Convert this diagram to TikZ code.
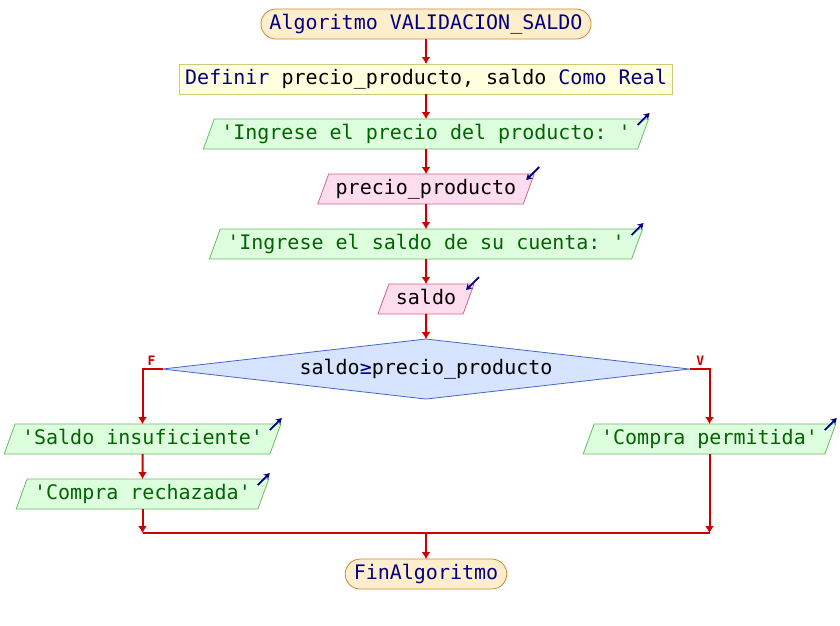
\documentclass[tikz,border=0pt]{standalone}
\usepackage{fontspec}
\setmonofont{DejaVu Sans Mono}
\usepackage{tikz}
\usetikzlibrary{positioning,shapes.geometric,calc,arrows.meta}
\definecolor{kw}{HTML}{000080}
\definecolor{strg}{HTML}{006400}
\definecolor{termfill}{HTML}{FFEECC}
\definecolor{termline}{HTML}{CC8833}
\definecolor{deffill}{HTML}{FFFFDD}
\definecolor{defline}{HTML}{CCCC77}
\definecolor{outfill}{HTML}{DDFFDD}
\definecolor{outline}{HTML}{66BB66}
\definecolor{infill}{HTML}{FFDDEE}
\definecolor{inline}{HTML}{CC6688}
\definecolor{condfill}{HTML}{D6E4FF}
\definecolor{condline}{HTML}{4466CC}
\definecolor{flowred}{HTML}{CC0000}
\tikzset{
  basic/.style  = {draw, font=\ttfamily\fontsize{20}{24}\selectfont, outer sep=0pt,
                   text height=15pt, text depth=5pt, inner ysep=5pt, line width=0.8pt},
  term/.style   = {basic, rectangle, rounded corners=15pt, fill=termfill,
                   draw=termline, text=kw, inner xsep=8.5pt},
  defbox/.style = {basic, rectangle, fill=deffill, draw=defline, inner xsep=6pt},
  iobox/.style  = {basic, trapezium, trapezium left angle=70,
                   trapezium right angle=110, inner xsep=7pt},
  outbox/.style = {iobox, fill=outfill, draw=outline, text=strg},
  inbox/.style  = {iobox, fill=infill, draw=inline},
  cond/.style   = {basic, diamond, aspect=8.783, fill=condfill, draw=condline,
                   minimum width=527pt, minimum height=60pt, inner sep=0pt},
  flag/.style   = {text=flowred, inner sep=0pt,
                   font=\ttfamily\bfseries\fontsize{13}{13}\selectfont},
  outicon/.style = {-{Stealth[length=6pt,width=7pt]}, draw=kw, line width=1.8pt},
  inicon/.style  = {-{Stealth[length=6pt,width=7pt]}, draw=kw, line width=1.8pt}
}
\begin{document}
\begin{tikzpicture}[
        node distance=25pt,
        flow/.style={->, draw=flowred, line width=2pt},
        flowline/.style={draw=flowred, line width=2pt},
        >={Latex[length=7pt,width=9pt]}]
        \useasboundingbox (0,0) rectangle (840pt,-625pt);
        % main column
        \node[term] (start) at (426pt,-24pt) {Algoritmo VALIDACION\_SALDO};
        \node[defbox, below=of start] (def) {{\color{kw}Definir}
          precio\_producto, saldo {\color{kw}Como Real}};
        \node[outbox, below=of def] (o1)
          {\textquotesingle Ingrese el precio del producto: \textquotesingle};
        \node[inbox, below=of o1] (i1) {precio\_producto};
        \node[outbox, below=of i1] (o2)
          {\textquotesingle Ingrese el saldo de su cuenta: \textquotesingle};
        \node[inbox, below=of o2] (i2) {saldo};
        \node[cond, below=of i2] (dec) {saldo{\color{kw}≥}precio\_producto};
        % the two branches
        \coordinate (fcorner) at ($(dec.west)+(-20pt,0)$);
        \coordinate (vcorner) at ($(dec.east)+(20pt,0)$);
        \node[outbox, below=55pt of fcorner] (s1)
          {\textquotesingle Saldo insuficiente\textquotesingle};
        \node[outbox, below=of s1] (s2)
          {\textquotesingle Compra rechazada\textquotesingle};
        \node[outbox, below=55pt of vcorner] (p1)
          {\textquotesingle Compra permitida\textquotesingle};
        \node[flag, above right=3pt and 5pt of fcorner] (lf) {F};
        \node[flag, above left=3pt and 5pt of vcorner] (lv) {V};
        % join and end
        \coordinate (jl) at ($(s2.south)+(0,-24pt)$);
        \coordinate (jr) at (p1.south |- jl);
        \coordinate (jm) at (start |- jl);
        \node[term, below=26pt of jm, minimum width=161pt] (fin) {FinAlgoritmo};
        % connectors
        \draw[flow] (start) -- (def);
        \draw[flow] (def) -- (o1);
        \draw[flow] (o1) -- (i1);
        \draw[flow] (i1) -- (o2);
        \draw[flow] (o2) -- (i2);
        \draw[flow] (i2) -- (dec);
        \draw[flow] (dec.west) -| (s1.north);
        \draw[flow] (dec.east) -| (p1.north);
        \draw[flow] (s1) -- (s2);
        \draw[flow] (s2.south) -- (jl);
        \draw[flow] (p1.south) -- (jr);
        \draw[flowline] (jl) -- (jr);
        \draw[flow] (jm) -- (fin);
        % little output / input marks
        \foreach \n in {o1,o2,s1,s2,p1}
        \draw[outicon] ([xshift=-11pt,yshift=-6pt]\n.top right corner) -- ++(12pt,12pt);
        \foreach \n in {i1,i2}
        \draw[inicon] ([xshift=5pt,yshift=7pt]\n.top right corner) -- ++(-13pt,-13pt);
      \end{tikzpicture}
\end{document}
